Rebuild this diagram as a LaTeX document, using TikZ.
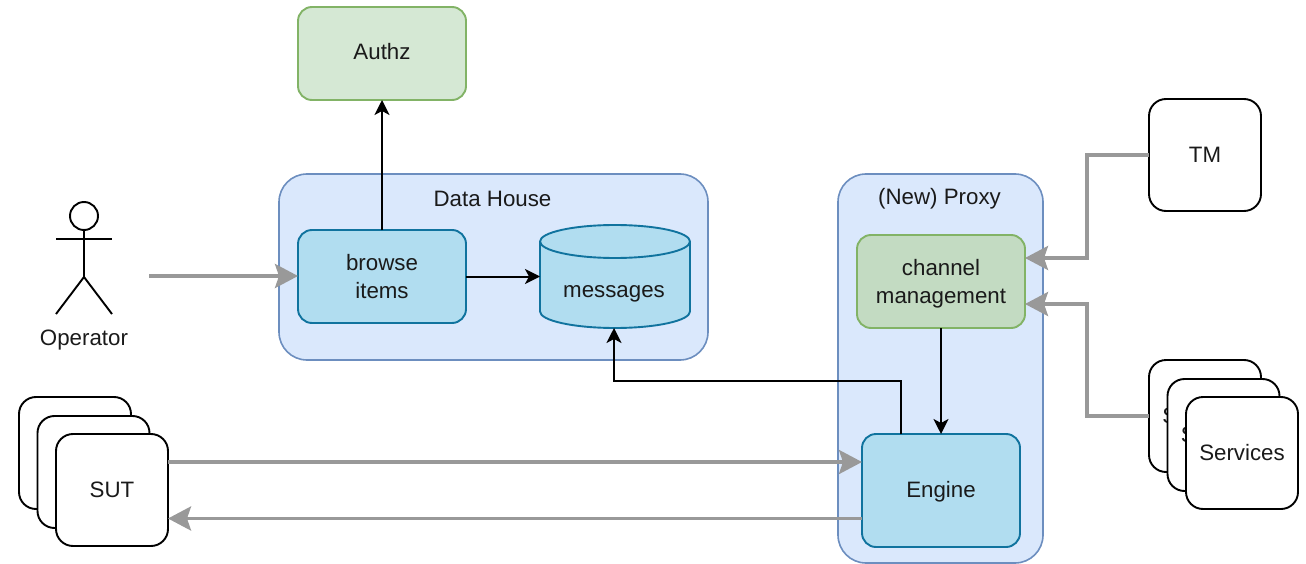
\documentclass[tikz,border=0pt]{standalone}
\usepackage{fontspec}
\setmainfont{Liberation Sans}
\usetikzlibrary{arrows.meta,shapes.geometric}
\definecolor{txtc}{HTML}{1A1A1A}
\definecolor{gfill}{HTML}{D5E8D4}
\definecolor{gfilld}{HTML}{C3DBC2}
\definecolor{gline}{HTML}{82B366}
\definecolor{bfill}{HTML}{DAE8FC}
\definecolor{bline}{HTML}{6C8EBF}
\definecolor{cfill}{HTML}{B1DDF0}
\definecolor{cline}{HTML}{10739E}
\definecolor{arrowgray}{HTML}{999999}
\tikzset{
  x=1pt,y=-1pt,
  every node/.style={font=\fontsize{22.3}{28}\selectfont,text=txtc,inner sep=0pt,outer sep=0pt,align=center},
  boxbase/.style={rectangle,draw,line width=1.9pt,rounded corners=14pt,minimum width=#1},
  boxbase/.default=168pt,
  greenbox/.style={boxbase,fill=gfill,draw=gline,minimum height=93pt},
  cyanbox/.style={boxbase,fill=cfill,draw=cline,minimum height=93pt},
  groupbox/.style={rectangle,draw=bline,fill=bfill,line width=1.6pt,rounded corners=28pt},
  whitebox/.style={rectangle,draw=black,fill=white,line width=1.9pt,rounded corners=17pt,minimum width=112pt,minimum height=112pt},
  blackarrow/.style={draw=black,line width=2pt,-{Stealth[length=15pt,width=15pt,inset=4pt]}},
  grayarrow/.style={draw=arrowgray,line width=3.4pt,-{Stealth[length=23pt,width=24pt,inset=4pt]}},
  actorline/.style={draw=black,line width=1.9pt},
  cylline/.style={draw=cline,line width=1.9pt,line join=round},
  plainlabel/.style={}
}
\begin{document}
\begin{tikzpicture}
\useasboundingbox (0,0) rectangle (1306,564);
% groups
\node[groupbox,minimum width=429pt,minimum height=186pt] (house) at (493.5,267) {};
\node[plainlabel] (houselabel) at (492.5,198.5) {Data House};
\node[groupbox,minimum width=205pt,minimum height=389pt] (proxy) at (940.5,368.5) {};
\node[plainlabel] (proxylabel) at (939.5,199) {(New) Proxy};
% boxes
\node[greenbox,text depth=4pt] (authz) at (382,53.5) {Authz};
\node[cyanbox] (browse) at (382,276.5) {browse\\items};
% cylinder
\node[rectangle,minimum width=150pt,minimum height=103pt] (msg) at (615,276.5) {};
\path[cylline,fill=cfill] ([yshift=-16.5pt]msg.north west)
  arc[start angle=180,end angle=0,x radius=75pt,y radius=16.5pt]
  -- ([yshift=16.5pt]msg.south east)
  arc[start angle=0,end angle=-180,x radius=75pt,y radius=16.5pt]
  -- cycle;
\path[cylline] ([yshift=-16.5pt]msg.north west)
  arc[start angle=180,end angle=360,x radius=75pt,y radius=16.5pt];
\node[plainlabel] (msglabel) at (614,293.5) {messages};
\node[greenbox,fill=gfilld,text height=48pt] (channel) at (941,281.5) {channel\\management};
\node[cyanbox,boxbase=158pt,minimum height=113pt,text height=18pt] (engine) at (941,490.5) {Engine};
% stacks
\node[whitebox] (sutc) at (75,453) {};
\node[whitebox] (sutb) at (93.5,472) {};
\node[whitebox] (sut) at (112,490) {SUT};
\node[whitebox] (tm) at (1205,155) {TM};
\node[whitebox] (srvc) at (1205,416) {Services};
\node[whitebox] (srvb) at (1223.5,435) {Services};
\node[whitebox] (srv) at (1242,453) {Services};
% actor
\node[circle,draw=black,fill=white,line width=1.9pt,minimum size=28pt] (head) at (84,216) {};
\coordinate (hip) at (84,277);
\draw[actorline] (head) -- (hip);
\draw[actorline] (56,239) -- (112,239);
\draw[actorline] (56,314) -- (hip) -- (112,314);
\node[plainlabel] (operator) at (84,340.5) {Operator};
\coordinate (opout) at (149,276);
% connectors
\draw[grayarrow] (opout) -- (browse.west |- opout);
\draw[blackarrow] (browse.north) -- (authz.south);
\draw[blackarrow] (browse.east) -- (msg.west |- browse.east);
\coordinate (bendr) at (901,381);
\coordinate (bendl) at (614,381);
\draw[blackarrow] (bendr |- engine.north) -- (bendr) -- (bendl) -- (bendl |- msg.south);
\draw[blackarrow] (channel.south) -- (engine.north);
\draw[grayarrow] ([yshift=28pt]sut.east) -- ([yshift=28pt]sut.east -| engine.west);
\draw[grayarrow] ([yshift=-28pt]engine.west) -- ([yshift=-28pt]engine.west -| sut.east);
\coordinate (tmbend) at (1087,155);
\coordinate (tmin) at (1087,258);
\draw[grayarrow] (tm.west) -- (tmbend) -- (tmin) -- (tmin -| channel.east);
\coordinate (srvbend) at (1087,416);
\coordinate (srvin) at (1087,304);
\draw[grayarrow] (srvc.west) -- (srvbend) -- (srvin) -- (srvin -| channel.east);
\end{tikzpicture}
\end{document}
